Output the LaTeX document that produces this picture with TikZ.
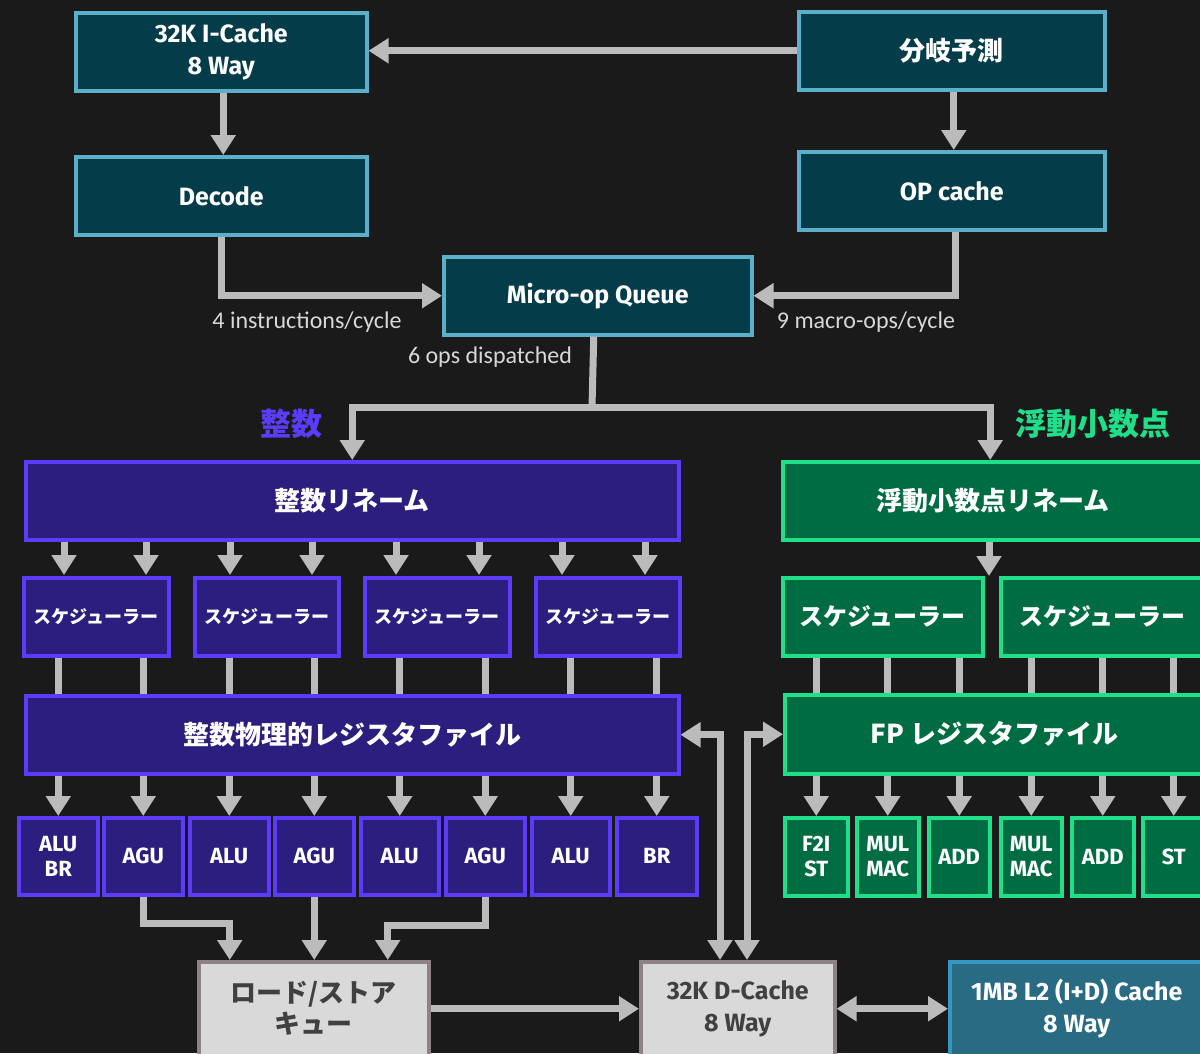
\documentclass[tikz,border=0pt]{standalone}
\usepackage{fontspec}
\usetikzlibrary{arrows.meta,calc}
\setmainfont{Fira Sans}
\newfontfamily\latb{Fira Sans}
\newfontfamily\jpb{Noto Sans CJK JP}
\newfontfamily\lab{Carlito}
\definecolor{bgc}{HTML}{1A1A1A}
\definecolor{tealF}{HTML}{043C4A}
\definecolor{tealB}{HTML}{5BAFC9}
\definecolor{intF}{HTML}{2B1E7E}
\definecolor{intB}{HTML}{5C3CFA}
\definecolor{fpF}{HTML}{006C42}
\definecolor{fpB}{HTML}{20DF8A}
\definecolor{grayF}{HTML}{D9D9D9}
\definecolor{grayB}{HTML}{8F8286}
\definecolor{dtext}{HTML}{404040}
\definecolor{l2F}{HTML}{296B82}
\definecolor{l2B}{HTML}{3597C4}
\definecolor{arrg}{HTML}{BBBBBB}
\definecolor{labg}{HTML}{D8D8D8}
\newcommand\mkbox[7]{\node[#2, anchor=north west, minimum width=#5-#3, minimum height=#6-#4] (#1) at (#3,#4) {#7};}
\tikzset{
 basebox/.style={rectangle, line width=3.5pt, inner sep=0pt, align=center, text=white},
 tealbox/.style={basebox, draw=tealB, fill=tealF, font=\latb\bfseries\fontsize{25}{32}\selectfont},
 tealjp/.style={tealbox, font=\jpb\bfseries\fontsize{26}{32}\selectfont},
 intbox/.style={basebox, draw=intB, fill=intF, font=\jpb\bfseries\fontsize{26}{32}\selectfont},
 intsch/.style={intbox, font=\jpb\bfseries\fontsize{18}{22}\selectfont},
 intunit/.style={intbox, font=\latb\bfseries\fontsize{22}{25}\selectfont},
 fpbox/.style={basebox, draw=fpB, fill=fpF, font=\jpb\bfseries\fontsize{26}{32}\selectfont},
 fpsch/.style={fpbox, font=\jpb\bfseries\fontsize{24}{28}\selectfont},
 fpunit/.style={fpbox, font=\latb\bfseries\fontsize{22}{25}\selectfont},
 lsqbox/.style={basebox, draw=grayB, fill=grayF, text=dtext, font=\jpb\bfseries\fontsize{26}{31}\selectfont},
 dcbox/.style={basebox, draw=grayB, fill=grayF, text=dtext, font=\latb\bfseries\fontsize{25}{32}\selectfont},
 l2box/.style={basebox, draw=l2B, fill=l2F, font=\latb\bfseries\fontsize{25}{32}\selectfont},
 arr/.style={draw=arrg, line width=7pt, line join=miter, -{Triangle[width=24pt,length=20pt]}},
 darr/.style={arr, {Triangle[width=24pt,length=20pt]}-{Triangle[width=24pt,length=20pt]}},
 ln/.style={draw=arrg, line width=7pt},
 lbl/.style={font=\lab\fontsize{24}{28}\selectfont, text=labg, inner sep=0pt},
 grp/.style={font=\jpb\bfseries\fontsize{31}{36}\selectfont, inner sep=0pt},
}
\begin{document}
\begin{tikzpicture}[x=1pt,y=-1pt]
\fill[bgc] (0,0) rectangle (1200,1053);
\useasboundingbox (0,0) rectangle (1200,1053);
% front end
\mkbox{ic}{tealbox}{74}{11}{365}{89}{32K I-Cache\\8 Way}
\mkbox{bp}{tealjp}{797}{10}{1103}{88}{分岐予測}
\mkbox{dec}{tealbox}{74}{155}{365}{233}{Decode}
\mkbox{opc}{tealbox}{797}{150}{1103}{228}{OP cache}
\mkbox{mq}{tealbox}{442}{255}{750}{333}{Micro-op Queue}
\draw[arr] (bp.west) -- (bp.west -| ic.east);
\draw[arr] ([xshift=2pt]ic.south) -- ([xshift=2pt]dec.north);
\draw[arr] ([xshift=2pt]bp.south) -- ([xshift=2pt]opc.north);
\draw[arr] (dec.south) |- (mq.west);
\draw[arr] ([xshift=4pt]opc.south) |- (mq.east);
\node[lbl] (l4) at (307,322) {4 instructions/cycle};
\node[lbl] (l9) at (866,322) {9 macro-ops/cycle};
\node[lbl] (l6) at (490,357) {6 ops dispatched};
% integer
\mkbox{ir}{intbox}{24}{460}{677}{538}{整数リネーム}
\mkbox{s1}{intsch}{22}{576}{167}{654}{スケジューラー}
\mkbox{s2}{intsch}{193}{576}{337}{654}{スケジューラー}
\mkbox{s3}{intsch}{363}{576}{508}{654}{スケジューラー}
\mkbox{s4}{intsch}{534}{576}{678}{654}{スケジューラー}
\mkbox{rf}{intbox}{24}{694}{677}{772}{整数物理的レジスタファイル}
\mkbox{u1}{intunit}{17}{816}{96}{893}{ALU\\BR}
\mkbox{u2}{intunit}{102}{816}{181}{893}{AGU}
\mkbox{u3}{intunit}{188}{816}{267}{893}{ALU}
\mkbox{u4}{intunit}{273}{816}{352}{893}{AGU}
\mkbox{u5}{intunit}{359}{816}{437}{893}{ALU}
\mkbox{u6}{intunit}{444}{816}{523}{893}{AGU}
\mkbox{u7}{intunit}{530}{816}{608}{893}{ALU}
\mkbox{u8}{intunit}{615}{816}{695}{893}{BR}
% FP
\mkbox{fr}{fpbox}{781}{460}{1202}{538}{浮動小数点リネーム}
\mkbox{fs1}{fpsch}{781}{576}{981}{654}{スケジューラー}
\mkbox{fs2}{fpsch}{999}{576}{1202}{654}{スケジューラー}
\mkbox{frf}{fpbox}{783}{693}{1202}{772}{FP レジスタファイル}
\mkbox{f1}{fpunit}{783}{816}{846}{894}{F2I\\ST}
\mkbox{f2}{fpunit}{855}{816}{917}{894}{MUL\\MAC}
\mkbox{f3}{fpunit}{927}{816}{988}{894}{ADD}
\mkbox{f4}{fpunit}{999}{816}{1060}{894}{MUL\\MAC}
\mkbox{f5}{fpunit}{1070}{816}{1132}{894}{ADD}
\mkbox{f6}{fpunit}{1141}{816}{1203}{894}{ST}
% dispatch split
\coordinate (split) at (592,407);
\draw[ln] ([xshift=-4pt]mq.south) -- (split);
\draw[arr] (split) -| (ir.north);
\draw[arr] (split) -| ([xshift=-3pt]fr.north);
\node[grp, text=intB] (gi) at (291,424) {整数};
\node[grp, text=fpB] (gf) at (1093,424) {浮動小数点};
% integer connectors
\foreach \x/\s in {64/s1,146/s1,230/s2,312/s2,396/s3,479/s3,562/s4,645/s4}
  \draw[arr] (ir.south -| \x,0) -- ([yshift=1pt]\s.north -| \x,0);
\foreach \u/\s in {u1/s1,u2/s1,u3/s2,u4/s2,u5/s3,u6/s3,u7/s4,u8/s4}
  \draw[ln] (\s.south -| \u.north) -- (rf.north -| \u.north);
\foreach \u in {u1,u2,u3,u4,u5,u6,u7,u8}
  \draw[arr] (rf.south -| \u.north) -- (\u.north);
% FP connectors
\draw[arr] (fr.south -| 989,0) -- (989,0 |- fs1.north);
\foreach \u/\s in {f1/fs1,f2/fs1,f3/fs1,f4/fs2,f5/fs2,f6/fs2}
  \draw[ln] (\s.south -| \u.north) -- (frf.north -| \u.north);
\foreach \u in {f1,f2,f3,f4,f5,f6}
  \draw[arr] (frf.south -| \u.north) -- (\u.north);
% memory
\mkbox{lsq}{lsqbox}{197}{960}{427}{1054}{ロード/ストア\\キュー}
\mkbox{dc}{dcbox}{639}{960}{833}{1054}{32K D-Cache\\8 Way}
\mkbox{l2}{l2box}{948}{960}{1202}{1054}{1MB L2 (I+D) Cache\\8 Way}
\draw[arr] (u2.south) -- ++(0,27) -| ([xshift=-84pt]lsq.north);
\draw[arr] (u4.south) -- (u4.south |- lsq.north);
\draw[arr] (u6.south) -- ++(0,29) -| ([xshift=74pt]lsq.north);
\draw[arr] (lsq.east) -- (dc.west);
\draw[darr] (dc.east) -- (l2.west);
\draw[darr] (dc.north -| 720,0) |- (rf.east);
\draw[darr] (dc.north -| 747,0) |- (frf.west);
\end{tikzpicture}
\end{document}
